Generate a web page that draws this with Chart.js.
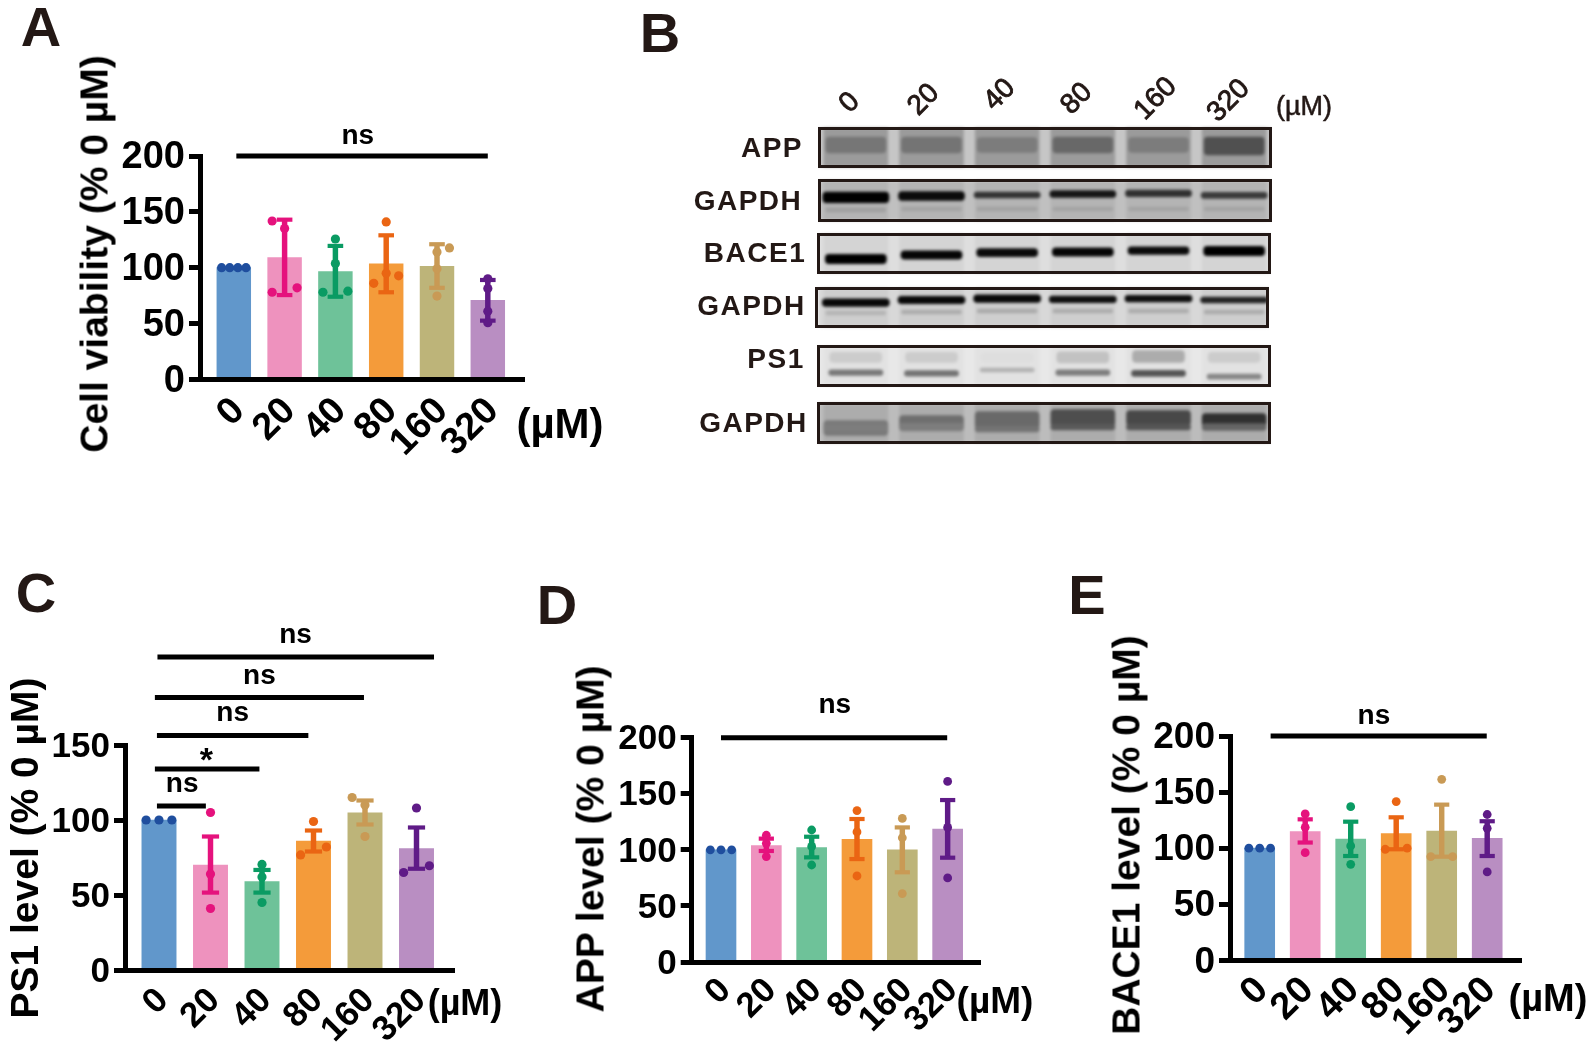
<!DOCTYPE html>
<html><head><meta charset="utf-8">
<style>
html,body{margin:0;padding:0;background:#fff;width:1595px;height:1054px;overflow:hidden}
canvas{position:absolute;pointer-events:none}
.t{position:absolute;white-space:nowrap;font-family:"Liberation Sans",Arial,sans-serif;line-height:1;color:#000}
.box{position:absolute;box-sizing:border-box;border:3px solid #231815}
.mask{position:absolute;background:#fff}
</style>
<script src="https://cdn.jsdelivr.net/npm/chart.js@4"></script>
</head><body>
<canvas id="blot" width="454" height="320" style="left:817.5px;top:126px;filter:blur(1.7px)"></canvas>
<canvas id="a" width="1595" height="1054" style="left:0;top:0"></canvas>
<canvas id="c" width="1595" height="1054" style="left:0;top:0"></canvas>
<canvas id="d" width="1595" height="1054" style="left:0;top:0"></canvas>
<canvas id="e" width="1595" height="1054" style="left:0;top:0"></canvas>
<script>
const doses=['0','20','40','80','160','320'];
const barColors=['#6197CB','#EE92BE','#6EC299','#F49B3A','#BDB479','#B98EC2'];
const dotColors=['#1F4E9E','#E5127D','#0A9B63','#EA6513','#C99A55','#5F1B87'];

const meansA=[100,109,96.6,103.4,101.3,70.7];
const lowA=[100,75.5,74,78,82,52.6];
const highA=[100,143,119.5,129,121,89];
const pointsA=[[100,100,100,100],[141.8,135,82,78],[125.7,103.7,79,78],[141,95,92.7,86],[117.7,114,99,74.6],[90,81.4,61,50.8]];
const swarmA=[[-.24,-.08,.08,.24],[-.245,0,.245,-.245],[0,0,.245,-.245],[0,0,.245,-.245],[.245,0,0,0],[0,0,0,0]];
const sigA=[[.05,5,200,'ns',2.44,218]];

const meansC=[100,70,59,86,104.7,81];
const lowC=[100,51.6,51.6,79,97,67.5];
const highC=[100,89,66.7,93,113,95];
const pointsC=[[100,100,100],[105,64,41],[70.4,62,45],[99,82,76.7],[115,110,89],[108,69.5,65]];
const swarmC=[[-.25,0,.25],[0,0,0],[0,0,0],[0,.25,-.25],[-.25,0,0],[0,.25,-.25]];
const sigC=[[-.03,5.34,208.7,'ns',2.65,223.3],[-.08,3.98,181.6,'ns',1.95,196],[-.04,2.9,156.4,'ns',1.43,171],[-.08,1.95,134,'*',.92,138.7],[-.04,.91,109.3,'ns',.45,124]];

const meansD=[100,103.7,102,109.4,100,118.6];
const lowD=[100,99,93.3,91.8,80,93];
const highD=[100,110,111.7,127.5,120,144.4];
const pointsD=[[100,100,100],[113,105.8,94],[117.7,103,86.5],[135,116,76.7],[128,110.8,61],[161,120,75]];
const swarmD=[[-.235,0,.235],[0,0,0],[0,0,0],[0,0,0],[0,0,0],[0,0,0]];
const sigD=[[0,4.99,200,'ns',2.51,228.5]];

const meansE=[100,114.7,108,113,115.3,108.8];
const lowE=[100,105,93,99,92.4,93];
const highE=[100,125.7,123.6,127.5,138.8,124];
const pointsE=[[100,100,100],[130.5,118.6,96],[137,102,85.6],[141.5,99,100],[161.4,92.4,92.4],[130,117.7,78.8]];
const swarmE=[[-.238,0,.238],[0,0,0],[0,0,0],[0,-.24,.24],[0,-.24,.24],[0,0,0]];
const sigE=[[.24,4.99,200,'ns',2.51,218]];

const blotNames=['APP','GAPDH','BACE1','GAPDH','PS1','GAPDH'];
const rowTop=[126.7,179.3,232.7,286.7,345.3,402];
const rowBottom=[168.3,221.7,274.3,328.3,387,444];
const rowGapGrey=[198,192,222,216,232,188];
const rowLaneGrey=[155,180,212,206,226,172];
// [row, band centre per lane, thickness per lane, grey per lane, band width]
const blotBands=[
 [0,[145,145,145,145,145,146],[16,16,15,16,15,18],[118,116,124,104,124,80],60],
 [1,[210,209,209,209,209,209],[4,4,4,4,4,4],[160,164,162,164,164,164],60],
 [1,[197.3,196,195,194,193.3,195.3],[10.5,9,6,7,6.5,6],[0,10,50,22,48,58],66],
 [2,[259,255,252.7,252,250.7,251],[9.5,8.5,8,8.5,7.5,9.5],[0,5,10,5,10,0],61],
 [3,[313,312,311,311,311,312],[4,4,4,4,4,4],[180,172,170,172,172,172],60],
 [3,[302.7,300,298.7,299.3,298.7,300],[7.5,7.5,7.5,6.5,6.5,6],[8,8,8,14,14,34],67],
 [4,[357.3,357.3,357.3,357.3,356.5,357.3],[10,10,9,11,12,10],[204,204,222,194,172,204],52],
 [4,[372.7,373.3,370,372.7,373.3,376.7],[5.5,5.5,4,5.5,6,5],[120,115,178,125,85,135],54],
 [5,[428,423,420,418,418,420],[15,15,17,17,15,13],[120,110,105,78,72,48],64],
 [5,[428,427,429,427,427,427],[8,8,6,6,6,7],[125,125,115,90,85,100],64]
];

const FONT='"Liberation Sans",Arial,sans-serif';
const sigPlugin={id:'sigLabels',afterDatasetsDraw(ch,a,o){
  const c=ch.ctx,x=ch.scales.x,y=ch.scales.y;
  c.save();c.fillStyle='#000';c.textAlign='center';c.textBaseline='middle';
  (o.items||[]).forEach(s=>{
    c.font=(s[3]==='*'?'bold 34px ':'bold 28px ')+FONT;
    c.fillText(s[3],x.getPixelForValue(s[4]),y.getPixelForValue(s[5]));
  });
  c.restore();
}};

function panel(id,g,means,low,high,points,swarm,sig){
  const spacing=g.spacing;
  const xMin=(g.left-g.c0)/spacing,xMax=(g.right-g.c0)/spacing;
  const idx=means.map((_,i)=>i);
  const ds=[];
  ds.push({type:'bar',order:5,data:idx.map(i=>({x:i,y:means[i]})),backgroundColor:barColors,grouped:false,
    barPercentage:1,categoryPercentage:1,maxBarThickness:g.barW,clip:false});
  ds.push({type:'bar',order:4,data:idx.filter(i=>high[i]>low[i]).map(i=>({x:i,y:[low[i],high[i]]})),
    backgroundColor:idx.filter(i=>high[i]>low[i]).map(i=>dotColors[i]),grouped:false,
    barPercentage:1,categoryPercentage:1,maxBarThickness:4.8,clip:false});
  const capIdx=idx.filter(i=>high[i]>low[i]);
  ds.push({type:'scatter',order:3,showLine:false,clip:false,pointStyle:'line',pointRadius:g.cap,pointBorderWidth:4.2,
    pointBorderColor:capIdx.flatMap(i=>[dotColors[i],dotColors[i]]),
    data:capIdx.flatMap(i=>[{x:i,y:low[i]},{x:i,y:high[i]}])});
  points.forEach((p,i)=>ds.push({type:'scatter',order:2,showLine:false,clip:false,pointStyle:'circle',pointRadius:g.dot,
    pointBorderWidth:0,pointBackgroundColor:dotColors[i],
    data:p.map((v,k)=>({x:i+swarm[i][k],y:v}))}));
  sig.forEach(s=>ds.push({type:'line',order:1,clip:false,borderColor:'#000',borderWidth:5,pointRadius:0,tension:0,
    data:[{x:s[0],y:s[2]},{x:s[1],y:s[2]}]}));
  new Chart(document.getElementById(id),{
    type:'bar',data:{datasets:ds},plugins:[sigPlugin],
    options:{responsive:false,animation:false,devicePixelRatio:1,
      layout:{autoPadding:false,padding:{left:0,top:g.top,right:1595-g.right,bottom:0}},
      plugins:{legend:{display:false},tooltip:{enabled:false},title:{display:false},sigLabels:{items:sig}},
      scales:{
        x:{type:'linear',offset:false,bounds:'data',min:xMin,max:xMax,afterFit:s=>{s.height=1054-g.bottom},
          afterBuildTicks:s=>{s.ticks=doses.map((_,i)=>({value:i}))},
          grid:{display:false,offset:false,z:2},border:{display:true,color:'#000',width:5,z:2},
          ticks:{autoSkip:false,maxRotation:45,minRotation:45,color:'#000',padding:g.xPad,labelOffset:g.xShift,z:2,
            font:{family:FONT,weight:'bold',size:g.xFont,lineHeight:.55},callback:v=>doses[v]??''}},
        y:{type:'linear',min:0,max:g.yMax,
          afterFit:s=>{s.width=g.left;
            if(!s._nudged){s._nudged=true;const orig=s._computeLabelItems;
              s._computeLabelItems=function(ca){const items=orig.call(this,ca);
                items.forEach(it=>{it.options.translation=[it.options.translation[0],it.options.translation[1]+2]});return items;};}},
          grid:{display:true,drawOnChartArea:false,drawTicks:true,tickLength:11,tickWidth:5,tickColor:'#000',color:'#000',z:2},
          border:{display:true,color:'#000',width:5,z:2},
          ticks:{stepSize:50,color:'#000',padding:g.yPad,z:2,font:{family:FONT,weight:'bold',size:g.yFont},callback:v=>String(v)}}
      }}
  });
}

panel('a',{left:200,right:524,top:156,bottom:379.4,c0:233.8,spacing:50.8,barW:33.8,cap:7.8,dot:4.6,yMax:200,yFont:38,xFont:38,yPad:4,xPad:10,xShift:5},meansA,lowA,highA,pointsA,swarmA,sigA);
panel('c',{left:125,right:454,top:745,bottom:970,c0:159,spacing:51.5,barW:34.3,cap:8.6,dot:4.6,yMax:150,yFont:35,xFont:35,yPad:4,xPad:10,xShift:4},meansC,lowC,highC,pointsC,swarmC,sigC);
panel('d',{left:691.7,right:980,top:737.7,bottom:962,c0:721,spacing:45.33,barW:30,cap:7.6,dot:4.4,yMax:200,yFont:35,xFont:35,yPad:4,xPad:8,xShift:4.5},meansD,lowD,highD,pointsD,swarmD,sigD);
panel('e',{left:1230,right:1521,top:736,bottom:960.3,c0:1259.7,spacing:45.5,barW:30,cap:7.6,dot:4.4,yMax:200,yFont:37,xFont:38,yPad:4,xPad:8.5,xShift:2.5},meansE,lowE,highE,pointsE,swarmE,sigE);

// western blot strips
(function(){
  const lanes=doses.map((_,i)=>i+.5);
  const grey=v=>`rgb(${v},${v},${v})`;
  const ds=[];
  const common={type:'bar',grouped:false,barPercentage:1,categoryPercentage:1,clip:false};
  rowTop.forEach((t,r)=>{
    ds.push({...common,order:30,maxBarThickness:76,backgroundColor:grey(rowGapGrey[r]),
      data:lanes.map(x=>({x,y:[t+1.5,rowBottom[r]-1.5]}))});
    ds.push({...common,order:29,maxBarThickness:64,backgroundColor:grey(rowLaneGrey[r]),
      data:lanes.map(x=>({x,y:[t+1.5,rowBottom[r]-1.5]}))});
  });
  blotBands.forEach((b,k)=>{
    ds.push({...common,order:20-k,maxBarThickness:b[4],borderRadius:4,borderSkipped:false,
      backgroundColor:b[3].map(grey),
      data:lanes.map((x,i)=>({x,y:[b[1][i]-b[2][i]/2,b[1][i]+b[2][i]/2]}))});
  });
  new Chart(document.getElementById('blot'),{type:'bar',data:{datasets:ds},
    options:{responsive:false,animation:false,devicePixelRatio:1,layout:{autoPadding:false,padding:0},
      plugins:{legend:{display:false},tooltip:{enabled:false}},
      scales:{x:{type:'linear',offset:false,bounds:'data',min:0,max:6,display:false,afterBuildTicks:s=>{s.ticks=[0,1,2,3,4,5,6].map(v=>({value:v}))}},y:{type:'linear',min:126,max:446,reverse:true,display:false}}}});
})();

// text and frames
function txt(s,x,y,size,rot,opt){
  opt=opt||{};
  const d=document.createElement('div');d.className='t';d.textContent=s;
  d.style.left=x+'px';d.style.top=y+'px';d.style.fontSize=size+'px';
  d.style.fontWeight=opt.weight||'bold';d.style.color=opt.color||'#000';
  if(opt.ls)d.style.letterSpacing=opt.ls+'px';
  if(opt.stroke)d.style.webkitTextStroke=opt.stroke+'px '+(opt.color||'#000');
  d.style.transform=`translate(-50%,-50%) rotate(${rot||0}deg)`;
  document.body.appendChild(d);
}
const ink='#231815';
txt('A',41,27,56,0,{color:ink});
txt('B',660,33,56,0,{color:ink});
txt('C',36,593,56,0,{color:ink});
txt('D',557,605,56,0,{color:ink});
txt('E',1087,595,56,0,{color:ink});
txt('Cell viability (% 0 µM)',93.6,253.5,39,-90);
txt('PS1 level (% 0 µM)',24,847.5,39,-90);
txt('APP level (% 0 µM)',590,839,39,-90);
txt('BACE1 level (% 0 µM)',1125.5,835,39,-90);
txt('(µM)',560,424,42,0);
txt('(µM)',465,1003,36,0);
txt('(µM)',995,1000,37,0);
txt('(µM)',1548,998,38,0);
const labelX=[772,748,755,751.5,776,753.5];
const labelY=[148,201,253,305.7,359,423];
const laneX=[849.3,923.3,999,1076,1154.5,1228];
const laneY=[101.7,99,94,98.3,98,100];
const boxX=[817.5,817.5,816.6,814.8,816.6,816.6];
blotNames.forEach((n,i)=>{
  const h=rowBottom[i]-rowTop[i];
  [boxX[i]-8,boxX[i]+454].forEach(x=>{
    const m=document.createElement('div');m.className='mask';
    m.style.left=x+'px';m.style.top=(rowTop[i]-3)+'px';m.style.width='8px';m.style.height=(h+6)+'px';
    document.body.appendChild(m);
  });
  const b=document.createElement('div');b.className='box';
  b.style.left=boxX[i]+'px';b.style.top=rowTop[i]+'px';b.style.width='454px';b.style.height=h+'px';
  document.body.appendChild(b);
  txt(n,labelX[i],labelY[i],28,0,{color:ink,ls:1.5});
});
doses.forEach((d,i)=>txt(d,laneX[i],laneY[i],28,-45,{color:ink,weight:'normal',stroke:.9}));
txt('(µM)',1304,105.7,27,0,{color:ink,weight:'normal',stroke:.5});
</script>
</body></html>
